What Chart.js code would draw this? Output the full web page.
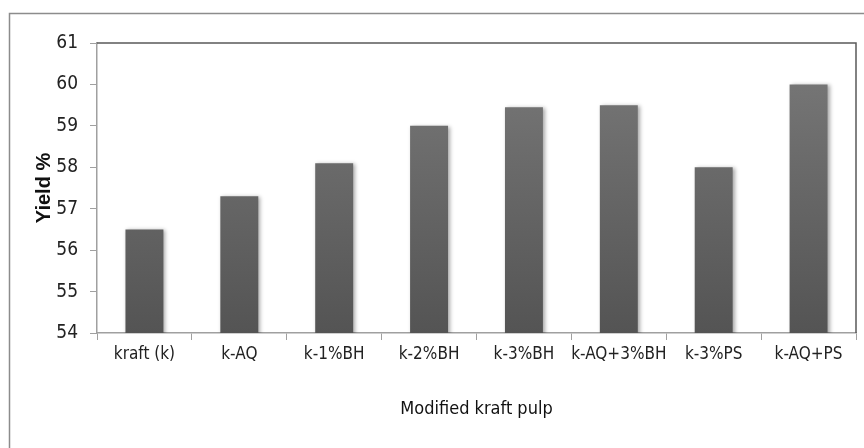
<!DOCTYPE html>
<html>
<head>
<meta charset="utf-8">
<script src="https://cdn.jsdelivr.net/npm/chart.js@4.4.1/dist/chart.umd.min.js"></script>
<style>
  html, body { margin: 0; padding: 0; background: #fff; }
  #wrap { width: 864px; height: 448px; }
</style>
</head>
<body>
<div id="wrap"><canvas id="yieldChart" width="864" height="448"></canvas></div>
<script>
// data
const pulpTypes = ['kraft (k)', 'k-AQ', 'k-1%BH', 'k-2%BH', 'k-3%BH', 'k-AQ+3%BH', 'k-3%PS', 'k-AQ+PS'];
const yieldValues = [56.5, 57.3, 58.1, 59.0, 59.45, 59.5, 58.0, 60.0];
const yTicks = [54, 55, 56, 57, 58, 59, 60, 61];

const narrow = "'Liberation Sans Narrow', 'DejaVu Sans Condensed', 'Open Sans', sans-serif";

// frame lines: outer box + top/right of the plot area
const framePlugin = {
    id: 'frame',
    beforeDraw(chart) {
        const ctx = chart.ctx;
        ctx.save();
        ctx.fillStyle = '#fff';
        ctx.fillRect(0, 0, chart.width, chart.height);
        ctx.strokeStyle = '#8c8c8c';
        ctx.lineWidth = 1.5;
        ctx.beginPath();
        ctx.moveTo(9.5, chart.height);
        ctx.lineTo(9.5, 13.5);
        ctx.lineTo(chart.width, 13.5);
        ctx.stroke();
        ctx.restore();
    },
    afterDraw(chart) {
        const { ctx, chartArea } = chart;
        ctx.save();
        ctx.strokeStyle = '#5a5a5a';
        ctx.lineWidth = 1.5;
        ctx.beginPath();
        ctx.moveTo(chartArea.left, chartArea.top);
        ctx.lineTo(chartArea.right, chartArea.top);
        ctx.lineTo(chartArea.right, chartArea.bottom);
        ctx.stroke();
        ctx.restore();
    }
};

// soft shadow behind the bars
const shadowPlugin = {
    id: 'barShadow',
    beforeDatasetsDraw(chart) {
        const ctx = chart.ctx;
        ctx.save();
        ctx.shadowColor = 'rgba(0,0,0,0.35)';
        ctx.shadowBlur = 4;
        ctx.shadowOffsetX = 2;
        ctx.shadowOffsetY = 1;
    },
    afterDatasetsDraw(chart) {
        chart.ctx.restore();
    }
};

function barGradient(context) {
    const { ctx, chartArea } = context.chart;
    if (!chartArea) return '#666';
    const g = ctx.createLinearGradient(0, chartArea.top, 0, chartArea.bottom);
    g.addColorStop(0, '#7a7a7a');
    g.addColorStop(1, '#545454');
    return g;
}

new Chart(document.getElementById('yieldChart'), {
    type: 'bar',
    data: {
        labels: pulpTypes,
        datasets: [{
            data: yieldValues,
            backgroundColor: barGradient,
            borderWidth: 0,
            barPercentage: 0.4,
            categoryPercentage: 1.0
        }]
    },
    options: {
        responsive: false,
        animation: false,
        devicePixelRatio: 1,
        layout: { padding: { left: 0, top: 43, right: 8, bottom: 0 } },
        plugins: {
            legend: { display: false },
            tooltip: { enabled: false }
        },
        scales: {
            x: {
                grid: {
                    offset: true,
                    drawOnChartArea: false,
                    drawTicks: true,
                    tickLength: 7,
                    color: '#a0a0a0'
                },
                border: { color: '#a0a0a0', width: 1.5 },
                ticks: {
                    color: '#222',
                    padding: 4,
                    maxRotation: 0,
                    autoSkip: false,
                    font: { family: narrow, size: 17 }
                },
                title: {
                    display: true,
                    text: 'Modified kraft pulp',
                    color: '#111',
                    padding: { top: 0, bottom: 28 },
                    font: { family: narrow, size: 18 }
                },
                afterFit(scale) { scale.height = 115; }
            },
            y: {
                min: yTicks[0],
                max: yTicks[yTicks.length - 1],
                afterBuildTicks(scale) {
                    scale.ticks = yTicks.map(v => ({ value: v }));
                },
                grid: {
                    drawOnChartArea: false,
                    drawTicks: true,
                    tickLength: 7,
                    color: '#a0a0a0'
                },
                border: { color: '#a0a0a0', width: 1.5 },
                ticks: {
                    color: '#222',
                    padding: 12,
                    font: { family: narrow, size: 19 }
                },
                title: {
                    display: true,
                    text: 'Yield %',
                    color: '#111',
                    padding: { top: 32, bottom: 0 },
                    font: { family: "'Liberation Sans', Arial, sans-serif", size: 20, weight: 'bold' }
                },
                afterFit(scale) { scale.width = 97; }
            }
        }
    },
    plugins: [framePlugin, shadowPlugin]
});
</script>
</body>
</html>
